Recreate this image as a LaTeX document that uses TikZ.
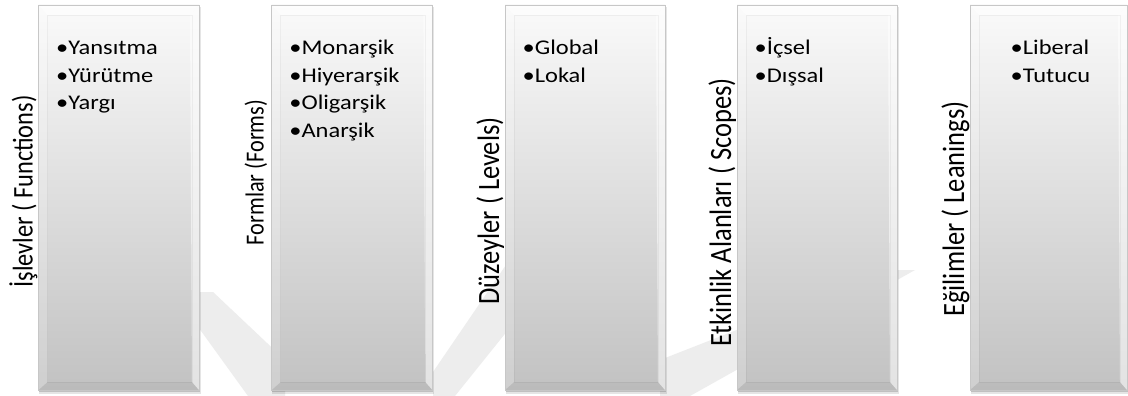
\documentclass[tikz,border=0pt]{standalone}
\usepackage{fontspec}
\setmainfont{Carlito}
\usepackage{graphicx}
\usetikzlibrary{calc}

% text is slightly wider than tall, as in the original slide
\newcommand{\widetext}[1]{\scalebox{1.17}[1]{\begin{tabular}[t]{@{}l@{}}#1\end{tabular}}}
% heading text: size factor, then text
\newcommand{\tallhead}[2]{\scalebox{#1}[\fpeval{1.17*#1}]{#2}}

% bevelled panel: name, left edge, width
\newcommand{\bevelpanel}[3]{%
  \fill[black, opacity=.10] (#2+0.5,7) rectangle (#2+#3+1.8,393.6);
  \fill[black, opacity=.16] (#2+0.5,6.5) rectangle (#2+#3+1.0,392.4);
  \fill[black, opacity=.22] (#2+0.3,6) rectangle (#2+#3+0.5,391.2);
  \node[panel, minimum width=#3pt, anchor=north west] (#1) at (#2,5) {};
  \fill[white, fill opacity=.6] (#1.north west) -- (#1.north east)
     -- ([shift={(-9,10)}]#1.north east) -- ([shift={(9,10)}]#1.north west) -- cycle;
  \fill[white, fill opacity=.22] (#1.north west) -- ([shift={(9,10)}]#1.north west)
     -- ([shift={(9,-8)}]#1.south west) -- (#1.south west) -- cycle;
  \fill[white, fill opacity=.55] (#1.north east) -- (#1.south east)
     -- ([shift={(-7,-8)}]#1.south east) -- ([shift={(-9,10)}]#1.north east) -- cycle;
  \fill[black, fill opacity=.03] (#1.south west) -- ([shift={(9,-8)}]#1.south west)
     -- ([shift={(-7,-8)}]#1.south east) -- (#1.south east) -- cycle;
  \draw[black, opacity=.045, line width=.6] ([shift={(9,10)}]#1.north west)
     rectangle ([shift={(-7,-8)}]#1.south east);
  \draw[black!22, line width=.6] (#1.north west) rectangle (#1.south east);
}

\begin{document}
\begin{tikzpicture}[x=1pt, y=-1pt,
  panel/.style={inner sep=0, outer sep=0, minimum height=385pt,
    top color=black!2, bottom color=black!24},
  lbl/.style={rotate=90, anchor=base, inner sep=0,
    font=\fontsize{26.5}{30}\selectfont},
  items/.style={anchor=base west, inner sep=0,
    font=\fontsize{20.9}{27.5}\selectfont},
  logoband/.style={fill=black!7}]
\useasboundingbox (0,0) rectangle (1128,396);
\fill[white] (0,0) rectangle (1128,396);

% faint background logo
\fill[logoband] (196,292) -- (213,292) -- (285,360) -- (285,396) -- (248,396) -- (196,324) -- cycle;
\fill[logoband] (433,372) -- (508,262) -- (508,330) -- (455,396) -- (433,396) -- cycle;
\fill[logoband] (660,360) -- (890,270) -- (915,270) -- (690,396) -- (660,396) -- cycle;

% panels
\bevelpanel{p1}{38.5}{160.5}
\bevelpanel{p2}{271.7}{160.7}
\bevelpanel{p3}{505}{160}
\bevelpanel{p4}{737}{160}
\bevelpanel{p5}{970}{157}

% side headings
\node[lbl] (h1) at ($(p1.north west)+(-6,186.5)$) {\tallhead{0.92}{İşlevler ( Functions)}};
\node[lbl] (h2) at ($(p2.north west)+(-8,167.5)$) {\tallhead{0.84}{Formlar (Forms)}};
\node[lbl] (h3) at ($(p3.north west)+(-6,206)$) {\tallhead{1}{Düzeyler ( Levels)}};
\node[lbl] (h4) at ($(p4.north west)+(-6,207.5)$) {\tallhead{1}{Etkinlik Alanları ( Scopes)}};
\node[lbl] (h5) at ($(p5.north west)+(-6,204)$) {\tallhead{1}{Eğilimler ( Leanings)}};

% bullet lists
\node[items] (b1) at ($(p1.north west)+(17.5,50)$) {\widetext{•Yansıtma\\•Yürütme\\•Yargı}};
\node[items] (b2) at ($(p2.north west)+(17.5,50)$) {\widetext{•Monarşik\\•Hiyerarşik\\•Oligarşik\\•Anarşik}};
\node[items] (b3) at ($(p3.north west)+(17.5,50)$) {\widetext{•Global\\•Lokal}};
\node[items] (b4) at ($(p4.north west)+(17.5,50)$) {\widetext{•İçsel\\•Dışsal}};
\node[items] (b5) at ($(p5.north west)+(40.5,50)$) {\widetext{•Liberal\\•Tutucu}};
\end{tikzpicture}
\end{document}
